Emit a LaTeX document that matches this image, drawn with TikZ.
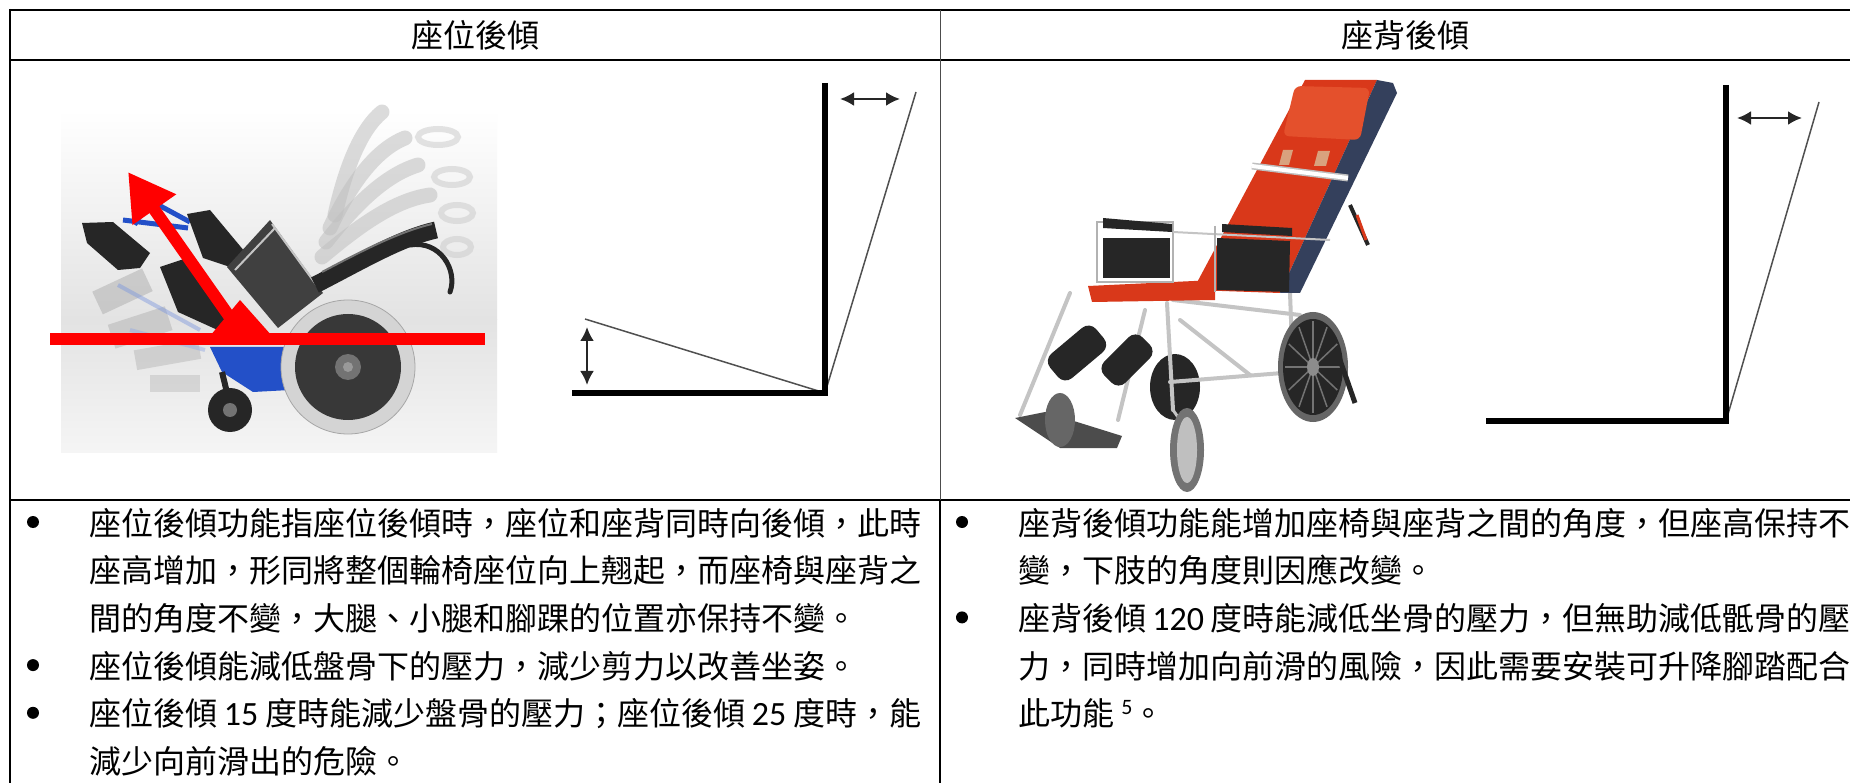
\documentclass[tikz,border=0pt]{standalone}
\usepackage{fontspec}
\setmainfont{Noto Sans CJK TC}
\newfontfamily\lat{Carlito}
\usetikzlibrary{arrows.meta}
\definecolor{redarrow}{HTML}{FF0000}
\definecolor{wblue}{HTML}{2350C8}
\definecolor{dark}{HTML}{262626}
\definecolor{tire}{HTML}{D4D4D4}
\definecolor{seatred}{HTML}{D9381A}
\definecolor{seatredlight}{HTML}{E4502C}
\definecolor{navy}{HTML}{34405C}
\definecolor{silver}{HTML}{C4C4C4}
\definecolor{strap}{HTML}{D9A27E}
\definecolor{refgray}{HTML}{505050}
\tikzset{
  tabrule/.style={line width=2pt, black},
  thickL/.style={line width=6pt, black, line cap=butt, line join=miter},
  thinref/.style={line width=1.5pt, refgray},
  dblarrow/.style={line width=2.5pt, black!85, {Latex[length=14pt,width=14pt]}-{Latex[length=14pt,width=14pt]}},
  hdr/.style={font=\fontsize{32}{32}\selectfont, inner sep=0pt, anchor=base},
  body/.style={font=\fontsize{32}{32}\selectfont, inner sep=0pt, anchor=base west},
  bul/.style={circle, fill=black, inner sep=0pt, minimum size=12pt},
  frametube/.style={line width=4pt, silver, line cap=round},
}
\newcommand{\dg}[1]{{\lat\fontsize{34}{34}\selectfont #1}}
\begin{document}
\begin{tikzpicture}[x=1pt,y=-1pt]
\useasboundingbox (0,0) rectangle (1850,783);
\clip (0,0) rectangle (1850,783);
\fill[white] (0,0) rectangle (1850,783);

% ================= left photo: tilt-in-space wheelchair =================
\shade[top color=white, bottom color=black!11] (61,110) rectangle (497,320);
\shade[top color=black!11, bottom color=black!4] (61,320) rectangle (497,452);
% ghost leg rests
\begin{scope}[opacity=0.45]
  \fill[gray!70, rotate around={25:(120,292)}] (95,280) rectangle (150,305);
  \fill[gray!65, rotate around={18:(140,327)}] (110,315) rectangle (170,340);
  \fill[gray!60, rotate around={10:(165,355)}] (135,345) rectangle (200,365);
  \fill[gray!55] (150,375) rectangle (200,392);
  \draw[wblue!60, line width=4pt] (118,285) -- (200,330);
  \draw[wblue!50, line width=4pt] (130,330) -- (205,350);
\end{scope}
% ghost backrests
\begin{scope}[opacity=0.55, line cap=round]
  \draw[gray!50, line width=15pt] (335,215) .. controls (345,170) and (360,130) .. (382,112);
  \draw[gray!50, line width=15pt] (330,228) .. controls (350,185) and (375,150) .. (405,138);
  \draw[gray!50, line width=15pt] (326,242) .. controls (355,205) and (385,175) .. (418,165);
  \draw[gray!50, line width=15pt] (322,257) .. controls (360,225) and (395,200) .. (430,195);
  \draw[gray!40, line width=6pt] (438,137) ellipse [x radius=20, y radius=8];
  \draw[gray!40, line width=6pt] (452,177) ellipse [x radius=18, y radius=8];
  \draw[gray!40, line width=6pt] (457,213) ellipse [x radius=16, y radius=8];
  \draw[gray!40, line width=6pt] (457,247) ellipse [x radius=14, y radius=8];
\end{scope}
% frame
\fill[wblue] (210,347) -- (287,347) -- (290,390) -- (253,392) -- (222,372) -- cycle;
\draw[wblue, line width=5pt] (290,380) -- (360,390);
\draw[wblue, line width=5pt] (140,195) -- (190,222);
\draw[wblue, line width=5pt] (123,220) -- (188,228);
\draw[wblue, line width=4pt] (150,200) -- (135,225);
% footplate
\fill[dark] (82,223) -- (113,222) -- (150,253) -- (140,268) -- (118,270) -- (87,243) -- cycle;
% cushion
\fill[dark] (187,214) -- (210,210) -- (250,258) -- (236,269) -- (203,258) -- cycle;
% seat panel
\fill[black!75] (227,267) -- (270,220) -- (323,293) -- (278,328) -- cycle;
\draw[silver, line width=2pt] (235,270) -- (275,228);
\draw[silver, line width=2pt] (272,224) -- (320,290);
% armrest
\fill[dark] (160,267) -- (187,258) -- (233,316) -- (222,332) -- (178,312) -- cycle;
% backrest
\draw[dark, line width=17pt] (315,285) .. controls (360,262) and (400,238) .. (436,230);
\draw[black!55, line width=2pt] (322,272) .. controls (360,252) and (398,232) .. (432,224);
% push handle
\draw[dark, line width=5pt, line cap=round] (410,245) .. controls (440,240) and (458,270) .. (450,292);
% rear wheel
\fill[tire] (348,367) circle (67);
\draw[black!35, line width=0.8pt] (348,367) circle (67);
\fill[black!78] (348,367) circle (53);
\fill[black!55] (348,367) circle (13);
\fill[black!40] (348,367) circle (5);
% caster
\draw[dark, line width=6pt] (222,372) -- (230,405);
\fill[dark] (230,410) circle (22);
\fill[black!55] (230,410) circle (7);
% red overlay
\fill[redarrow] (50,333) rectangle (485,345);
\fill[redarrow] (210,336) -- (272,336) -- (240,300) -- cycle;
\draw[redarrow, line width=12pt, -{Triangle[length=46pt,width=50pt]}] (243,336) -- (128,172);

% ================= right photo: reclining wheelchair =================
\fill[dark] (1175,387) ellipse [x radius=25, y radius=33];
\draw[frametube] (1070,293) -- (1020,415);
\draw[frametube] (1145,310) -- (1118,420);
\draw[frametube] (1167,303) -- (1173,410);
\draw[frametube] (1290,293) -- (1293,372);
\draw[frametube] (1170,382) -- (1295,372);
\draw[frametube] (1173,300) -- (1300,315);
\draw[frametube] (1180,320) -- (1250,375);
\fill[black!70] (1015,418) -- (1045,412) -- (1122,436) -- (1117,448) -- (1060,448) -- cycle;
\fill[seatred] (1088,286) -- (1215,280) -- (1215,300) -- (1092,302) -- cycle;
\fill[seatred] (1305,80) -- (1377,80) -- (1280,293) -- (1193,290) -- cycle;
\fill[navy] (1377,80) -- (1393,83) -- (1397,93) -- (1300,293) -- (1280,293) -- cycle;
\fill[seatredlight, rounded corners=6pt] (1295,86) -- (1370,88) -- (1360,140) -- (1283,136) -- cycle;
\fill[strap] (1283,150) -- (1293,150) -- (1289,165) -- (1279,165) -- cycle;
\fill[strap] (1318,151) -- (1330,151) -- (1326,166) -- (1314,166) -- cycle;
\draw[black!25, line width=7pt] (1252,166) -- (1348,178);
\draw[white, line width=4pt] (1252,166) -- (1348,178);
\draw[black!30, line width=2pt, fill=white] (1097,222) rectangle (1173,282);
\fill[dark] (1103,238) rectangle (1170,278);
\fill[dark] (1103,218) -- (1172,224) -- (1172,232) -- (1103,228) -- cycle;
\draw[silver, line width=2pt] (1173,232) -- (1330,240);
\fill[dark] (1217,238) -- (1290,241) -- (1289,292) -- (1217,290) -- cycle;
\fill[dark] (1222,224) -- (1292,228) -- (1292,236) -- (1222,232) -- cycle;
\draw[black!30, line width=1.5pt] (1215,226) -- (1215,292);
\fill[dark, rotate around={40:(1077,353)}, rounded corners=10pt] (1047,337) rectangle (1107,369);
\fill[dark, rotate around={45:(1127,360)}, rounded corners=10pt] (1100,345) rectangle (1154,375);
\draw[silver, line width=3pt] (1173,410) -- (1187,430);
\fill[black!60] (1060,420) ellipse [x radius=15, y radius=27];
\fill[black!55] (1187,450) ellipse [x radius=17, y radius=42];
\fill[black!25] (1187,450) ellipse [x radius=10, y radius=33];
\fill[black!60] (1313,367) ellipse [x radius=35, y radius=55];
\fill[dark] (1313,367) ellipse [x radius=30, y radius=48];
\foreach \a in {0,30,...,330}
  \draw[black!55, line width=1.5pt] (1313,367) -- ({1313+28*cos(\a)},{367+46*sin(\a)});
\fill[black!45] (1313,367) ellipse [x radius=6, y radius=9];
\draw[dark, line width=4pt] (1350,205) -- (1368,245);
\draw[seatred, line width=3pt] (1357,215) -- (1366,240);
\draw[dark, line width=5pt] (1340,360) -- (1355,403);

% ================= table rules =================
\draw[tabrule] (9,10) -- (1860,10);
\draw[tabrule] (9,60) -- (1860,60);
\draw[tabrule] (9,500) -- (1860,500);
\draw[line width=1.6pt] (10,9) -- (10,790);
\draw[line width=1pt, black!70] (940,10) -- (940,500);
\draw[line width=1.6pt] (940,500) -- (940,790);

% ================= headers =================
\node[hdr] (h1) at (475,48) {座位後傾};
\node[hdr] (h2) at (1405,48) {座背後傾};

% ================= left diagram =================
\coordinate (Lc) at (825,393);
\coordinate (Lt) at (825,83);
\coordinate (Ll) at (572,393);
\coordinate (Lseat) at (585,319);
\coordinate (Lback) at (916,92);
\coordinate (La1) at (587,327);
\coordinate (La2) at (587,385);
\coordinate (La3) at (840,99);
\coordinate (La4) at (900,99);
\draw[thinref] (Lseat) -- (Lc);
\draw[thinref] (Lc) -- (Lback);
\draw[thickL] (Lt) -- (Lc) -- (Ll);
\draw[dblarrow] (La1) -- (La2);
\draw[dblarrow] (La3) -- (La4);

% ================= right diagram =================
\coordinate (Rc) at (1726,421);
\coordinate (Rt) at (1726,85);
\coordinate (Rl) at (1486,421);
\coordinate (Rback) at (1819,102);
\coordinate (Ra1) at (1737,118);
\coordinate (Ra2) at (1802,118);
\draw[thinref] (Rc) -- (Rback);
\draw[thickL] (Rt) -- (Rc) -- (Rl);
\draw[dblarrow] (Ra1) -- (Ra2);

% ================= left text =================
\node[bul] (lb1) at (33,522) {};
\node[body] (l1) at (89,535) {座位後傾功能指座位後傾時，座位和座背同時向後傾，此時};
\node[body] (l2) at (89,582.7) {座高增加，形同將整個輪椅座位向上翹起，而座椅與座背之};
\node[body] (l3) at (89,630.4) {間的角度不變，大腿、小腿和腳踝的位置亦保持不變。};
\node[bul] (lb2) at (33,665.1) {};
\node[body] (l4) at (89,678.1) {座位後傾能減低盤骨下的壓力，減少剪力以改善坐姿。};
\node[bul] (lb3) at (33,712.8) {};
\node[body] (l5) at (89,725.8) {\makebox[832pt][s]{座位後傾 \dg{15} 度時能減少盤骨的壓力；座位後傾 \dg{25} 度時，能}};
\node[body] (l6) at (89,773.5) {減少向前滑出的危險。};

% ================= right text =================
\node[bul] (rb1) at (962,522) {};
\node[body] (r1) at (1018,535) {座背後傾功能能增加座椅與座背之間的角度，但座高保持不};
\node[body] (r2) at (1018,582.7) {變，下肢的角度則因應改變。};
\node[bul] (rb2) at (962,617.4) {};
\node[body] (r3) at (1018,630.4) {\makebox[832pt][s]{座背後傾 \dg{120} 度時能減低坐骨的壓力，但無助減低骶骨的壓}};
\node[body] (r4) at (1018,678.1) {力，同時增加向前滑的風險，因此需要安裝可升降腳踏配合};
\node[body] (r5) at (1018,725.8) {此功能 {\lat\raisebox{11pt}{\fontsize{22}{22}\selectfont 5}}。};
\end{tikzpicture}
\end{document}
